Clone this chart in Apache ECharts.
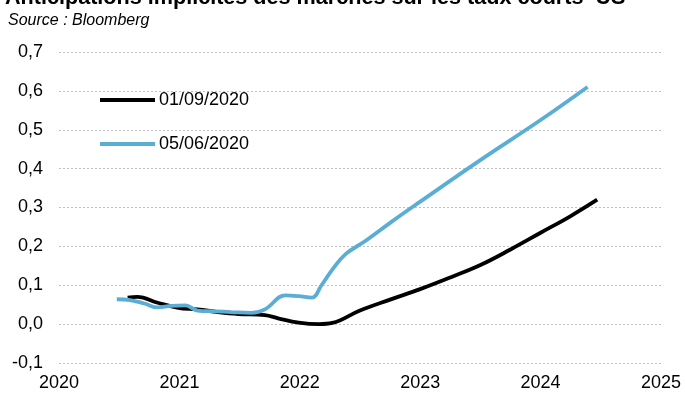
<!DOCTYPE html>
<html><head><meta charset="utf-8">
<script src="https://cdn.jsdelivr.net/npm/echarts@6/dist/echarts.min.js"></script>
<style>html,body{margin:0;padding:0;background:#fff}#c{width:685px;height:393px}</style>
</head><body><div id="c"></div>
<script>
const title = "Anticipations implicites des marchés sur les taux courts  US";
const subtitle = "Source : Bloomberg";
const seriesNames = ["01/09/2020", "05/06/2020"];
const xTicks = [2020, 2021, 2022, 2023, 2024, 2025];
const yTicks = [-0.1, 0, 0.1, 0.2, 0.3, 0.4, 0.5, 0.6, 0.7];
const blackYears = [2020.57, 2020.65, 2020.82, 2020.99, 2021.15, 2021.32, 2021.49, 2021.71, 2021.82, 2021.99, 2022.16, 2022.27, 2022.5, 2022.75, 2023.0, 2023.25, 2023.5, 2023.75, 2024.0, 2024.25, 2024.47];
const blackVals = [0.068, 0.070, 0.055, 0.042, 0.038, 0.031, 0.026, 0.023, 0.015, 0.004, 0.000, 0.003, 0.035, 0.063, 0.090, 0.120, 0.152, 0.192, 0.235, 0.278, 0.320];
const blueYears = [2020.48, 2020.59, 2020.71, 2020.82, 2020.93, 2021.05, 2021.15, 2021.30, 2021.43, 2021.60, 2021.71, 2021.88, 2021.99, 2022.10, 2022.18, 2022.27, 2022.38, 2022.55, 2022.77, 2023.0, 2023.49, 2024.0, 2024.39];
const blueVals = [0.064, 0.062, 0.053, 0.043, 0.047, 0.048, 0.035, 0.033, 0.031, 0.029, 0.038, 0.074, 0.072, 0.068, 0.100, 0.140, 0.180, 0.215, 0.265, 0.315, 0.420, 0.525, 0.610];

const chart = echarts.init(document.getElementById('c'));
const font = "'Liberation Sans', Arial, sans-serif";
chart.setOption({
  animation: false,
  title: [
    {text: title, left: 5, top: -13, padding: 0, textStyle: {fontFamily: font, fontWeight: 'bold', fontSize: 21.6, color: '#000'}},
    {text: subtitle, left: 8, top: 13, padding: 0, textStyle: {fontFamily: font, fontStyle: 'italic', fontWeight: 'normal', fontSize: 16, color: '#000'}}
  ],
  legend: {
    orient: 'vertical', left: 100, top: 91, padding: 0, itemGap: 26, itemWidth: 55, itemHeight: 4,
    icon: 'rect',
    textStyle: {fontFamily: font, fontSize: 18, color: '#000', padding: [0,0,0,-1]},
    data: seriesNames
  },
  grid: {left: 59, right: 24, top: 52, bottom: 30},
  xAxis: {
    type: 'value', min: 2020, max: 2025, interval: 1,
    axisLine: {show: false}, axisTick: {show: false}, splitLine: {show: false},
    axisLabel: {fontFamily: font, fontSize: 18, color: '#000', margin: 11, formatter: v => String(v)}
  },
  yAxis: {
    type: 'value', min: -0.1, max: 0.7, interval: 0.1,
    axisLine: {show: false}, axisTick: {show: false},
    splitLine: {lineStyle: {type: [2, 2], color: '#c0c0c0', width: 1}},
    axisLabel: {fontFamily: font, fontSize: 18, color: '#000', margin: 16,
      formatter: v => v.toFixed(1).replace('.', ',')}
  },
  series: [
    {name: seriesNames[0], type: 'line', smooth: 0.4, symbol: 'none',
     lineStyle: {color: '#000', width: 3.8}, itemStyle: {color: '#000'},
     data: blackYears.map((x, i) => [x, blackVals[i]])},
    {name: seriesNames[1], type: 'line', smooth: 0.4, symbol: 'none',
     lineStyle: {color: '#5AAED6', width: 3.8}, itemStyle: {color: '#5AAED6'},
     data: blueYears.map((x, i) => [x, blueVals[i]])}
  ]
});
</script></body></html>
